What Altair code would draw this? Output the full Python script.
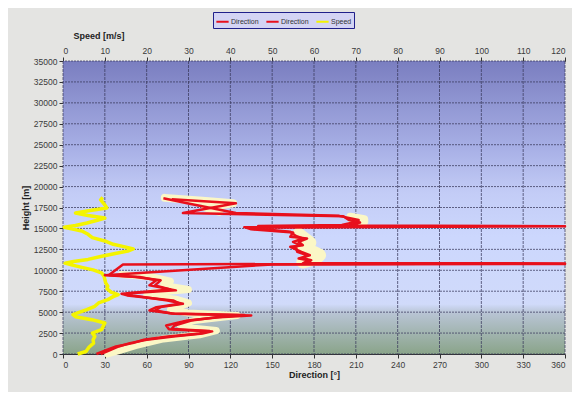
import altair as alt
import pandas as pd

# ---------------- data ----------------
# Speed profile (yellow): height [m], speed [m/s]
speed_h = [0, 300, 800, 1300, 1700, 2100, 2500, 2900, 3300, 3700, 4100, 4450, 4700, 5000,
           5300, 5700, 6100, 6500, 6850, 7100, 7400, 7800, 8100, 8500, 8900, 9300, 9700,
           10050, 10350, 10650, 10850, 11050, 11300, 11650, 12000, 12300, 12550, 12800,
           13100, 13500, 13900, 14300, 14700, 14950, 15150, 15350, 15650, 15950, 16250,
           16550, 16850, 17150, 17450, 17800, 18100, 18400, 18700]
speed_v = [3.5, 5.5, 6.2, 7.3, 7.2, 7.6, 7.0, 9.2, 9.6, 10.0, 6.9, 3.0, 2.4, 4.0,
           5.7, 7.6, 8.5, 10.7, 12.0, 13.2, 11.5, 10.5, 10.7, 10.2, 10.0, 9.8, 9.2,
           7.2, 4.5, 2.0, 0.5, 2.5, 6.0, 9.0, 12.5, 15.5, 16.8, 14.8,
           12.0, 10.0, 7.0, 6.0, 4.5, 2.0, 0.3, 3.0, 5.7, 8.0, 10.0,
           6.0, 3.0, 6.5, 10.5, 10.0, 9.5, 9.0, 9.5]

# Direction series 1 (red): height [m], direction [deg]
dir1_h = [0, 400, 900, 1300, 1700, 2100, 2450, 2700, 2950, 3400, 4000, 4400, 4600, 4800,
          5200, 5600, 6000, 6400, 7000, 7200, 7600, 8200, 8800, 9200, 9400, 10700, 10750,
          10830, 11200, 11400, 11800, 12200, 12800, 13000, 13400, 13800, 14000, 14500,
          14900, 15150, 15250, 15350, 15700, 16000, 16450, 16850, 18000, 18500]
dir1_v = [27, 33, 40, 48, 60, 79, 100, 107, 76, 74, 89, 112, 135, 80,
          62, 67, 84, 79, 46, 42, 81, 62, 67, 55, 30, 150, 360,
          172, 176, 169, 177, 171, 163, 172, 169, 175, 163, 165,
          135, 130, 360, 205, 213, 205, 201, 86, 124, 78]

# Direction series 2 (red)
dir2_h = [0, 400, 900, 1300, 1700, 2100, 2450, 2750, 3000, 3400, 4000, 4400, 4650, 4850,
          5200, 5600, 6000, 6400, 7000, 7250, 7700, 8200, 8800, 9200, 9450, 10700, 10820,
          10870, 11200, 11450, 11800, 12200, 12800, 13000, 13400, 13800, 14100, 14600,
          14950, 15100, 15230, 15300, 15400, 15700, 16000, 16500, 16850, 18000, 18600]
dir2_v = [24, 30, 38, 50, 58, 75, 98, 105, 78, 80, 92, 110, 130, 78,
          66, 70, 86, 75, 50, 46, 77, 66, 70, 52, 33, 43, 360,
          175, 178, 172, 175, 168, 167, 170, 165, 172, 167, 163,
          140, 133, 297, 140, 200, 208, 212, 198, 124, 89, 72]

# Pale band behind the direction lines: segment id, height, direction
band_seg = [1] * 23 + [2] * 8 + [3] * 4 + [4] * 5
band_h = [0, 500, 1000, 1800, 2300, 2800, 3100, 3500, 4000, 4400, 4600, 4900, 5300,
          5700, 6100, 6500, 7000, 7300, 7700, 8200, 8700, 9200, 9500,
          11000, 11400, 11800, 12200, 12800, 13300, 13800, 14300,
          15500, 15800, 16100, 16400,
          18650, 18300, 18000, 17500, 17000]
band_v = [32, 42, 52, 72, 98, 110, 92, 84, 94, 114, 125, 90, 77,
          84, 90, 82, 60, 62, 90, 72, 77, 64, 42,
          172, 181, 184, 179, 171, 177, 173, 169,
          207, 216, 216, 206,
          73, 100, 122, 102, 112]
band_w = {1: 7, 2: 13, 3: 8, 4: 8}

dir_ticks = list(range(0, 361, 30))
speed_ticks = list(range(0, 121, 10))
height_ticks = list(range(0, 35001, 2500))

series_names = ["Direction", "Direction2", "Speed"]
series_colors = ["#e8101c", "#e8101c", "#f4f400"]

# ---------------- tables ----------------
d1 = pd.DataFrame({"h": dir1_h, "dir": dir1_v, "series": "Direction"})
d1["i"] = range(len(d1))
d2 = pd.DataFrame({"h": dir2_h, "dir": dir2_v, "series": "Direction2"})
d2["i"] = range(len(d2))
dir_df = pd.concat([d1, d2], ignore_index=True)

sp_df = pd.DataFrame({"h": speed_h, "speed": speed_v, "series": "Speed"})
sp_df["i"] = range(len(sp_df))

band_df = pd.DataFrame({"seg": band_seg, "h": band_h, "dir": band_v})
band_df["w"] = band_df["seg"].map(band_w)
band_df["i"] = range(len(band_df))

W, H = 502, 293
FONT = "Liberation Sans"

dir_scale = alt.Scale(domain=[0, 360], nice=False, zero=False)
sp_scale = alt.Scale(domain=[0, 120], nice=False, zero=False)
y_scale = alt.Scale(domain=[0, 35000], nice=False)

y_enc = alt.Y("h:Q", scale=y_scale,
              axis=alt.Axis(values=height_ticks, format="d", title="Height [m]",
                            grid=False, titlePadding=3))

legend = alt.Legend(orient="none", legendX=150, legendY=-49, direction="horizontal",
                    title=None, fillColor="#d4d4f4", strokeColor="#20208a",
                    padding=2, symbolType="stroke", symbolSize=150, symbolStrokeWidth=2,
                    labelFontSize=7, labelFont=FONT, labelColor="#333",
                    columnPadding=3, labelOffset=1, symbolOffset=0,
                    labelExpr="datum.label == 'Speed' ? 'Speed' : 'Direction'")
color_enc = alt.Color("series:N", scale=alt.Scale(domain=series_names, range=series_colors),
                      legend=legend)

# background gradient of the plot area
bg = alt.Chart(pd.DataFrame({"a": [0]})).mark_rect(
    color=alt.Gradient(gradient="linear", x1=0, x2=0, y1=0, y2=1,
                       stops=[alt.GradientStop(offset=0, color="#7a7ec0"),
                              alt.GradientStop(offset=0.3, color="#a8b0e6"),
                              alt.GradientStop(offset=0.45, color="#c3ccf6"),
                              alt.GradientStop(offset=0.6, color="#ccd7fd"),
                              alt.GradientStop(offset=0.83, color="#d0dafa"),
                              alt.GradientStop(offset=0.86, color="#b8c4d4"),
                              alt.GradientStop(offset=1, color="#8aa48a")])
).encode(x=alt.value(0), x2=alt.value(W), y=alt.value(0), y2=alt.value(H))

vgrid = alt.Chart(pd.DataFrame({"dir": dir_ticks})).mark_rule(
    color="#3a3a5c", strokeWidth=1, strokeDash=[3, 1], opacity=0.75
).encode(x=alt.X("dir:Q", scale=dir_scale, axis=None))

hgrid = alt.Chart(pd.DataFrame({"h": height_ticks})).mark_rule(
    color="#3a3a5c", strokeWidth=1, strokeDash=[2, 1], opacity=0.75
).encode(y=y_enc)

band = alt.Chart(band_df).mark_line(
    color="#fbf7c6", strokeCap="round", strokeJoin="round"
).encode(x=alt.X("dir:Q", scale=dir_scale, axis=None), y=y_enc,
         size=alt.Size("w:Q", scale=None, legend=None),
         detail="seg:N", order="i:Q")

speed = alt.Chart(sp_df).mark_line(strokeWidth=3.5, strokeJoin="round").encode(
    x=alt.X("speed:Q", scale=sp_scale,
            axis=alt.Axis(orient="top", values=speed_ticks, title="Speed [m/s]",
                          titleAnchor="start", titleAlign="left", titleX=10, titleY=-23,
                          titleBaseline="alphabetic", grid=False)),
    y=y_enc, color=color_enc, order="i:Q")

direction = alt.Chart(dir_df).mark_line(strokeWidth=2.5, strokeJoin="round").encode(
    x=alt.X("dir:Q", scale=dir_scale,
            axis=alt.Axis(orient="bottom", values=dir_ticks, title="Direction [°]",
                          grid=False, titlePadding=2)),
    y=y_enc, color=color_enc, detail="series:N", order="i:Q")

chart = alt.layer(bg, hgrid, vgrid, band, speed, direction).resolve_scale(
    x="independent"
).properties(
    width=W, height=H,
    autosize=alt.AutoSizeParams(type="none"),
    padding={"left": 55, "top": 53, "right": 7, "bottom": 38},
    background="#e4e4e2",
).configure_axis(
    labelFont=FONT, labelFontSize=8.5, labelColor="#3a3a3a",
    titleFont=FONT, titleFontSize=9, titleFontWeight="bold", titleColor="#222",
    domainColor="#333", tickColor="#333", tickSize=4, labelPadding=2,
).configure_view(strokeWidth=0)

chart.save("out.html", embed_options={"renderer": "svg", "actions": False})
